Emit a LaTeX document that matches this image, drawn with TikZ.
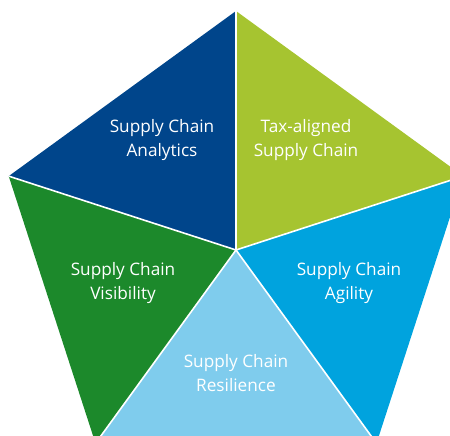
\documentclass[tikz,border=0pt]{standalone}
\usepackage{fontspec}
\setmainfont{Open Sans}
\usetikzlibrary{calc}

\definecolor{scDarkBlue}{RGB}{0,69,139}
\definecolor{scLime}{RGB}{166,196,48}
\definecolor{scGreen}{RGB}{28,137,43}
\definecolor{scCyan}{RGB}{0,163,222}
\definecolor{scLight}{RGB}{127,204,237}

\tikzset{
  segtext/.style={text=white,align=center,inner sep=0pt,
    font=\fontsize{17.2}{24}\selectfont},
  divider/.style={draw=white,line width=1.6pt}
}

\begin{document}
\begin{tikzpicture}[x=1pt,y=-1pt]
  \useasboundingbox (0,0) rectangle (450,436);
  \clip (0,0) rectangle (450,436);

  % pentagon corners round the centre
  \coordinate (c) at (236,250);
  \foreach \i/\ang in {1/-90,2/-18,3/54,4/126,5/198} {
    \coordinate (v\i) at ($(c)+(\ang:239)$);
  }

  % the five segments
  \fill[scLime]     (c) -- (v1) -- (v2) -- cycle;
  \fill[scCyan]     (c) -- (v2) -- (v3) -- cycle;
  \fill[scLight]    (c) -- (v3) -- (v4) -- cycle;
  \fill[scGreen]    (c) -- (v4) -- (v5) -- cycle;
  \fill[scDarkBlue] (c) -- (v5) -- (v1) -- cycle;

  % white dividers
  \foreach \i in {1,...,5} {
    \draw[divider] (c) -- (v\i);
  }

  % labels
  \node[segtext] (analytics) at (162,140) {Supply Chain\\Analytics};
  \node[segtext] (tax) at (306,140) {Tax-aligned\\Supply Chain};
  \node[segtext] (visibility) at (123,283) {Supply Chain\\Visibility};
  \node[segtext] (agility) at (349,283) {Supply Chain\\Agility};
  \node[segtext] (resilience) at (236,373) {Supply Chain\\Resilience};

\end{tikzpicture}
\end{document}
